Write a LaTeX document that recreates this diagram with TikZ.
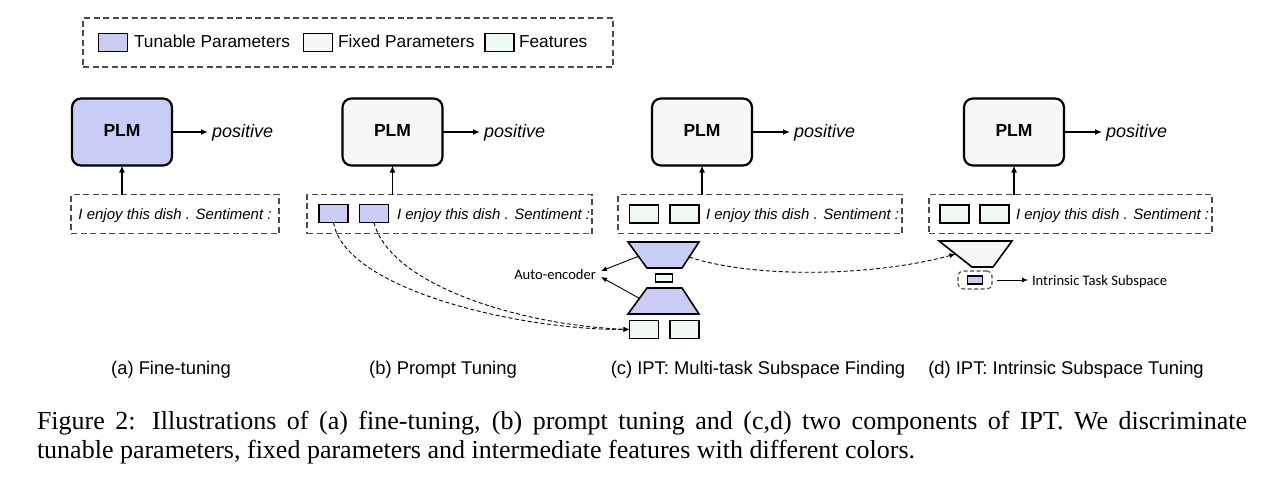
\documentclass[tikz,border=0pt]{standalone}
\usepackage{fontspec}
\setmainfont{Liberation Serif}
\setsansfont{Liberation Sans}
\newfontfamily\calfont{Carlito}
\usetikzlibrary{arrows.meta,calc}
\definecolor{tunable}{RGB}{201,205,246}
\definecolor{fixedc}{RGB}{248,247,245}
\definecolor{feat}{RGB}{237,251,243}
\definecolor{dashgray}{RGB}{75,75,75}
\begin{document}
\begin{tikzpicture}[x=1pt,y=-1pt,
  every node/.style={inner sep=0pt,outer sep=0pt},
  ctr/.style={text height=1em,text depth=0em},
  plmbox/.style={draw=black,line width=2.2pt,rounded corners=9pt,minimum width=100pt,minimum height=67pt,font=\sffamily\bfseries\fontsize{17.5}{20}\selectfont,text height=0.9em,text depth=0em},
  sqbox/.style={draw=black,line width=1.7pt,minimum width=29pt,minimum height=18pt},
  inbox/.style={draw=dashgray,line width=1.3pt,dash pattern=on 6pt off 3.5pt,minimum height=39pt},
  txt/.style={font=\sffamily\fontsize{17.3}{20}\selectfont,ctr},
  intext/.style={font=\sffamily\itshape\fontsize{15}{18}\selectfont,ctr},
  postext/.style={font=\sffamily\itshape\fontsize{18}{21}\selectfont,ctr},
  subcap/.style={font=\sffamily\fontsize{18.4}{21}\selectfont,ctr},
  caltext/.style={font=\calfont\fontsize{14.6}{17}\selectfont,ctr},
  captext/.style={font=\rmfamily\fontsize{26}{32}\selectfont},
  arr/.style={-{Latex[length=7pt,width=6pt]},line width=1.3pt},
  thinarr/.style={-{Latex[length=6pt,width=5pt]},line width=0.9pt},
  dcurve/.style={-{Latex[length=6pt,width=5pt]},line width=0.9pt,dash pattern=on 4pt off 2.5pt},
  trap/.style={draw=black,line width=1.6pt,line join=miter}
]
\useasboundingbox[fill=white] (0,0) rectangle (1274,482);

% legend
\node[inbox,minimum width=530pt,minimum height=49pt] (leg) at (348,42.5) {};
\node[sqbox,fill=tunable] (l1) at (113,42.5) {};
\node[txt,anchor=west] (l1t) at (134,42.5) {Tunable Parameters};
\node[sqbox,fill=fixedc] (l2) at (318,42.5) {};
\node[txt,anchor=west] (l2t) at (338,42.5) {Fixed Parameters};
\node[sqbox,fill=feat] (l3) at (499.5,42.5) {};
\node[txt,anchor=west] (l3t) at (519,42.5) {Features};

% (a)
\node[plmbox,fill=tunable] (pa) at (122,132) {PLM};
\node[postext,anchor=west] (posa) at (212,132) {positive};
\draw[arr] (pa.east) -- ([xshift=-4pt]posa.west);
\node[inbox,minimum width=208pt] (ina) at (175,214) {};
\node[intext] (inat) at (175,214) {I enjoy this dish . Sentiment :};
\draw[arr] (pa.south |- ina.north) -- (pa.south);
\node[subcap] (capa) at (171,369) {(a) Fine-tuning};

% (b)
\node[plmbox,fill=fixedc] (pb) at (392.5,132) {PLM};
\node[postext,anchor=west] (posb) at (484,132) {positive};
\draw[arr] (pb.east) -- ([xshift=-4pt]posb.west);
\node[inbox,minimum width=285pt] (inb) at (449.5,214) {};
\node[sqbox,fill=tunable] (b1) at (333.5,213.5) {};
\node[sqbox,fill=tunable] (b2) at (374,213.5) {};
\node[intext,anchor=west] (inbt) at (397,214) {I enjoy this dish . Sentiment :};
\draw[arr] (pb.south |- inb.north) -- (pb.south);
\node[subcap] (capb) at (443,369) {(b) Prompt Tuning};

% (c)
\node[plmbox,fill=fixedc] (pc) at (702,132) {PLM};
\node[postext,anchor=west] (posc) at (794,132) {positive};
\draw[arr] (pc.east) -- ([xshift=-4pt]posc.west);
\node[inbox,minimum width=284pt] (inc) at (760,214) {};
\node[sqbox,fill=feat] (c1) at (644,214) {};
\node[sqbox,fill=feat] (c2) at (684.5,214) {};
\node[intext,anchor=west] (inct) at (706,214) {I enjoy this dish . Sentiment :};
\draw[arr] (pc.south |- inc.north) -- (pc.south);
% auto-encoder
\coordinate (e1) at (628,242); \coordinate (e2) at (699,242);
\coordinate (e3) at (682,268); \coordinate (e4) at (647,268);
\draw[trap,fill=tunable] (e1) -- (e2) -- (e3) -- (e4) -- cycle;
\node[draw=black,line width=1.5pt,fill=feat,minimum width=17pt,minimum height=8pt] (z) at (664,278) {};
\coordinate (d1) at (647,288); \coordinate (d2) at (682,288);
\coordinate (d3) at (699,314); \coordinate (d4) at (628,314);
\draw[trap,fill=tunable] (d1) -- (d2) -- (d3) -- (d4) -- cycle;
\node[sqbox,fill=feat] (c3) at (644,329.5) {};
\node[sqbox,fill=feat] (c4) at (684.5,329.5) {};
\node[caltext,anchor=east] (ae) at (596,274) {Auto-encoder};
\coordinate (es) at ($(e1)!0.55!(e4)$);
\coordinate (ds) at ($(d1)!0.4!(d4)$);
\draw[thinarr] (es) -- ([xshift=5pt,yshift=3pt]ae.east);
\draw[thinarr] (ds) -- ([xshift=5pt,yshift=-3pt]ae.east);
\node[subcap] (capc) at (758,369) {(c) IPT: Multi-task Subspace Finding};

% prompt curves
\draw[dcurve] (b1.south) .. controls (345,290) and (520,330) .. (c3.west);
\draw[dcurve] (b2.south) .. controls (390,285) and (520,325) .. (c3.west);

% (d)
\node[plmbox,fill=fixedc] (pd) at (1014,132) {PLM};
\node[postext,anchor=west] (posd) at (1106,132) {positive};
\draw[arr] (pd.east) -- ([xshift=-4pt]posd.west);
\node[inbox,minimum width=283pt] (ind) at (1070.5,214) {};
\node[sqbox,fill=feat] (g1) at (954.5,214) {};
\node[sqbox,fill=feat] (g2) at (994.5,214) {};
\node[intext,anchor=west] (indt) at (1016,214) {I enjoy this dish . Sentiment :};
\draw[arr] (pd.south |- ind.north) -- (pd.south);
\coordinate (f1) at (939,241); \coordinate (f2) at (1012,241);
\coordinate (f3) at (993,267); \coordinate (f4) at (972,267);
\draw[trap,fill=fixedc] (f1) -- (f2) -- (f3) -- (f4) -- cycle;
\node[draw=black,line width=1.5pt,fill=tunable,minimum width=15pt,minimum height=8pt] (s) at (975,280) {};
\node[draw=dashgray,line width=1.1pt,dash pattern=on 4pt off 2.5pt,rounded corners=5pt,minimum width=34pt,minimum height=18pt] (sbox) at (975,280) {};
\node[caltext,anchor=west] (its) at (1032,280) {Intrinsic Task Subspace};
\draw[thinarr,shorten <=5pt] (sbox.east) -- ([xshift=-4pt]its.west);
\node[subcap] (capd) at (1066,369) {(d) IPT: Intrinsic Subspace Tuning};

% subspace curve
\coordinate (es2) at ($(e2)!0.58!(e3)$);
\coordinate (ft) at ($(f1)!0.5!(f4)$);
\draw[dcurve] (es2) .. controls (760,280) and (880,275) .. (ft);

% caption
\node[captext,anchor=base west] (cap1) at (37,429) {\makebox[1210pt][s]{Figure 2: Illustrations of (a) fine-tuning, (b) prompt tuning and (c,d) two components of IPT. We discriminate}};
\node[captext,anchor=base west] (cap2) at (37,458) {tunable parameters, fixed parameters and intermediate features with different colors.};
\end{tikzpicture}
\end{document}
